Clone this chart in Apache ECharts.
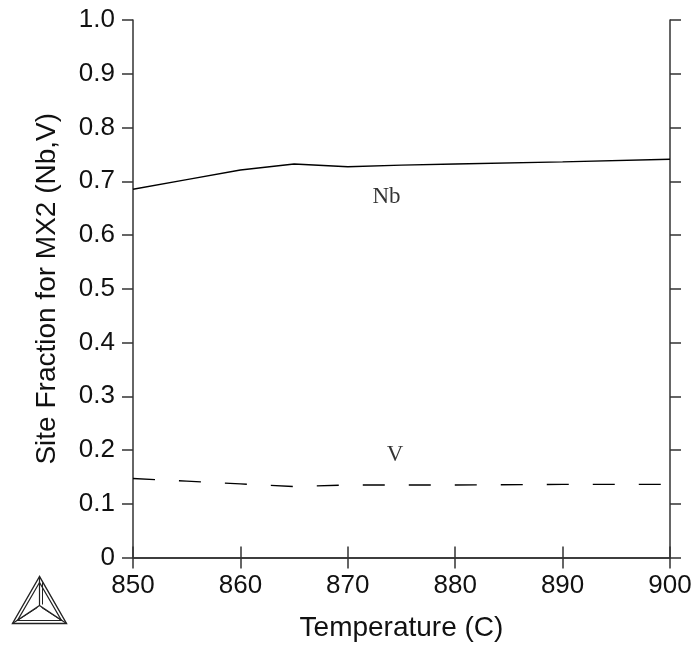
<!DOCTYPE html>
<html>
<head>
<meta charset="utf-8">
<script src="https://cdn.jsdelivr.net/npm/echarts@6/dist/echarts.min.js"></script>
<style>html,body{margin:0;padding:0;background:#fff;}#c{width:696px;height:647px;}</style>
</head>
<body>
<div id="c"></div>
<script>
var temps = [850, 855, 860, 865, 870, 875, 880, 890, 900];
var nbFrac = [0.685, 0.703, 0.721, 0.732, 0.727, 0.730, 0.732, 0.736, 0.741];
var vFrac = [0.147, 0.142, 0.137, 0.132, 0.135, 0.135, 0.135, 0.136, 0.136];
var labels = [{name: 'Nb', x: 873.6, y: 0.671}, {name: 'V', x: 874.4, y: 0.191}];
var xTitle = 'Temperature (C)';
var yTitle = 'Site Fraction for MX2 (Nb,V)';

var chart = echarts.init(document.getElementById('c'));
var axisLine = {show: true, lineStyle: {color: '#333', width: 1.5}};
var axisTick = {show: true, inside: false, length: 11, lineStyle: {color: '#333', width: 1.5}};
var sans = 'Liberation Sans, Arial, sans-serif';
function pts(ys) { return temps.map(function (t, i) { return [t, ys[i]]; }); }
chart.setOption({
  animation: false,
  grid: {left: 133, top: 20, width: 537, height: 537.5, containLabel: false, outerBoundsMode: 'none'},
  xAxis: [
    {type: 'value', min: 850, max: 900, interval: 10, position: 'bottom',
     name: xTitle, nameLocation: 'middle', nameGap: 57,
     nameTextStyle: {fontFamily: sans, fontSize: 28, color: '#111'},
     axisLine: axisLine, axisTick: axisTick, splitLine: {show: false},
     axisLabel: {fontFamily: sans, fontSize: 26, color: '#111', margin: 15}},
    {type: 'value', min: 850, max: 900, interval: 10, position: 'top',
     axisLine: axisLine, axisTick: axisTick, splitLine: {show: false},
     axisLabel: {show: false}}
  ],
  yAxis: [
    {type: 'value', min: 0, max: 1, interval: 0.1, position: 'left',
     name: yTitle, nameLocation: 'middle', nameGap: 72, nameRotate: 90,
     nameTextStyle: {fontFamily: sans, fontSize: 28, color: '#111'},
     axisLine: axisLine, axisTick: axisTick, splitLine: {show: false},
     axisLabel: {fontFamily: sans, fontSize: 26, color: '#111', margin: 18,
       formatter: function (v) { return v === 0 ? '0' : v.toFixed(1); }}},
    {type: 'value', min: 0, max: 1, interval: 0.1, position: 'right',
     axisLine: axisLine, axisTick: axisTick, splitLine: {show: false},
     axisLabel: {show: false}}
  ],
  series: [
    {type: 'line', data: pts(nbFrac), showSymbol: false, smooth: false,
     lineStyle: {color: '#000', width: 1.4, type: 'solid'}},
    {type: 'line', data: pts(vFrac), showSymbol: false, smooth: false,
     lineStyle: {color: '#000', width: 1.4, type: [22, 24]}},
    {type: 'scatter', symbolSize: 0, silent: true,
     data: labels.map(function (l) { return {value: [l.x, l.y], name: l.name}; }),
     label: {show: true, position: 'inside', formatter: '{b}',
       fontFamily: 'Liberation Serif, Times New Roman, serif', fontSize: 23, color: '#000'}}
  ],
  graphic: [
    {type: 'group', left: 10, top: 574, children: [
      {type: 'polygon', shape: {points: [[27, 0], [0, 47], [54, 47]]}, style: {fill: 'none', stroke: '#222', lineWidth: 1.4}},
      {type: 'polygon', shape: {points: [[27, 6], [5, 44], [49, 44]]}, style: {fill: 'none', stroke: '#222', lineWidth: 1.2}},
      {type: 'polyline', shape: {points: [[27, 0], [27, 29]]}, style: {stroke: '#222', lineWidth: 1.2}},
      {type: 'polyline', shape: {points: [[0, 47], [27, 29], [54, 47]]}, style: {fill: 'none', stroke: '#222', lineWidth: 1.2}},
      {type: 'polyline', shape: {points: [[5, 44], [25, 31]]}, style: {stroke: '#222', lineWidth: 1}},
      {type: 'polyline', shape: {points: [[49, 44], [29, 31]]}, style: {stroke: '#222', lineWidth: 1}},
      {type: 'polyline', shape: {points: [[30, 6], [30, 28]]}, style: {stroke: '#222', lineWidth: 1}}
    ]}
  ]
});
</script>
</body>
</html>
